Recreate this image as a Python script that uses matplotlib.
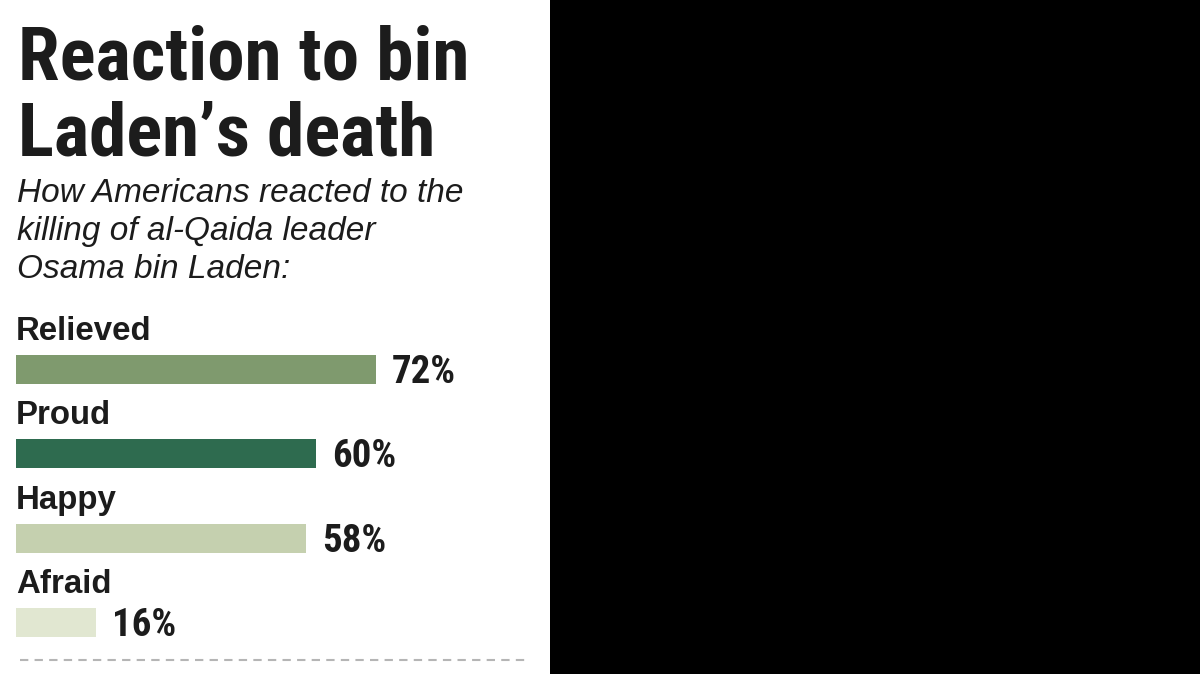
import matplotlib
matplotlib.use("Agg")
import matplotlib.pyplot as plt
from matplotlib import font_manager
from matplotlib.patches import Rectangle
from matplotlib.lines import Line2D
from matplotlib.transforms import offset_copy

# ---- data ----
categories = ["Relieved", "Proud", "Happy", "Afraid"]
values = [72, 60, 58, 16]
value_labels = ["72%", "60%", "58%", "16%"]
bar_colors = ["#7f9a6e", "#2e6b4f", "#c5d0af", "#e1e7d1"]
title_lines = ["Reaction to bin", "Laden’s death"]
subtitle_lines = ["How Americans reacted to the",
                  "killing of al-Qaida leader",
                  "Osama bin Laden:"]

available = {f.name for f in font_manager.fontManager.ttflist}
narrow = next((f for f in ["Liberation Sans Narrow", "DejaVu Sans Condensed",
                           "Roboto Condensed", "Liberation Sans"] if f in available),
              "DejaVu Sans")
sans = "Liberation Sans" if "Liberation Sans" in available else "DejaVu Sans"

W, H = 1200, 674
fig = plt.figure(figsize=(W / 100, H / 100), dpi=100)
fig.patch.set_facecolor("white")

def fx(px):
    return px / W

def fy(py):
    return 1 - py / H

ink = "#1c1c1c"

# black right panel
fig.patches.append(Rectangle((fx(550), 0), 1 - fx(550), 1, transform=fig.transFigure,
                             facecolor="black", edgecolor="none", zorder=0))

# title
for line, base in zip(title_lines, [80, 155]):
    fig.text(fx(18), fy(base), line, fontfamily=narrow, fontweight="black",
             fontsize=54, color=ink, va="baseline", ha="left")

# subtitle
for line, base in zip(subtitle_lines, [202, 240, 278]):
    fig.text(fx(17), fy(base), line, fontfamily=sans, fontstyle="italic",
             fontsize=24, color=ink, va="baseline", ha="left")

# bar axes: x 16..516 px for 0..100, 4 rows of 84.33 px
row = 84.33
top = 369.5 - row / 2
ax = fig.add_axes([fx(16), fy(top + 4 * row), fx(500), 4 * row / H])
ax.set_xlim(0, 100)
ax.set_ylim(3.5, -0.5)
ax.axis("off")

bar_h = 29 / row
ypos = list(range(len(categories)))
ax.barh(ypos, values, height=bar_h, color=bar_colors, edgecolor="none")

lab_tr = offset_copy(ax.transData, fig=fig, x=0, y=29.5, units="dots")
val_tr = offset_copy(ax.transData, fig=fig, x=16, y=-13.5, units="dots")
for y, cat, v, vl in zip(ypos, categories, values, value_labels):
    ax.text(0, y, cat, transform=lab_tr, fontfamily=sans, fontweight="bold",
            fontsize=23.8, color=ink, va="baseline", ha="left")
    ax.text(v, y, vl, transform=val_tr, fontfamily=narrow, fontweight="black",
            fontsize=28, color=ink, va="baseline", ha="left")

# dashed rule at bottom
fig.add_artist(Line2D([fx(20), fx(527)], [fy(660), fy(660)], transform=fig.transFigure,
                      color="#b5b5b5", linewidth=1.5, linestyle=(0, (4, 3))))

fig.savefig("out.png", dpi=100, facecolor=fig.get_facecolor())
